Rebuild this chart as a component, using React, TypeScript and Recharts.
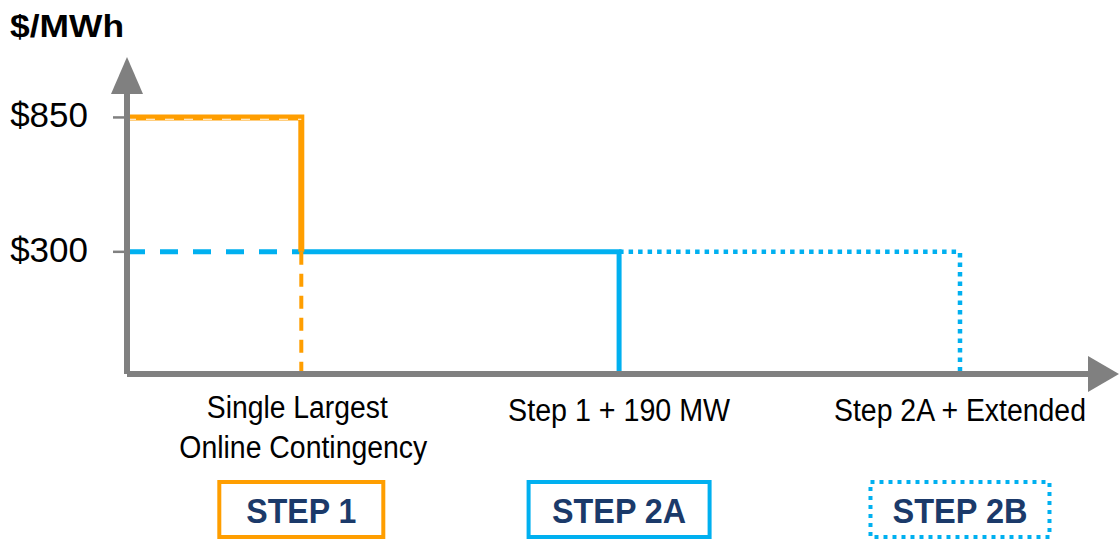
import React from 'react';
import { LineChart, Line, XAxis, YAxis, ReferenceDot } from 'recharts';

const FONT = '"Liberation Sans", Arial, Helvetica, sans-serif';
const ORANGE = '#FF9E00';
const BLUE = '#00B0F0';
const GRAY = '#808080';
const NAVY = '#1B3A6A';

// ---- data ----
const X_MAX = 1000; // capacity axis extent (conceptual units)
const Y_MIN = -200; // price axis floor
const Y_MAX = 950; // price axis top

const priceTicks = [300, 850];
const stepBreaks = [181, 511, 865];
const categoryLabels = [
  ['Single Largest', 'Online Contingency'],
  ['Step 1 + 190 MW'],
  ['Step 2A + Extended'],
];
const stepNames = ['STEP 1', 'STEP 2A', 'STEP 2B'];

const step1Solid = [
  { x: 0, y: 850 },
  { x: 181, y: 850 },
  { x: 181, y: 300 },
];
const step1Dashed = [
  { x: 181, y: 300 },
  { x: 181, y: -200 },
];
const step1CapDashed = [
  { x: 0, y: 850 },
  { x: 181, y: 850 },
];
const step2aDashed = [
  { x: 0, y: 300 },
  { x: 181, y: 300 },
];
const step2aSolid = [
  { x: 181, y: 300 },
  { x: 511, y: 300 },
  { x: 511, y: -200 },
];
const step2bDotted = [
  { x: 511, y: 300 },
  { x: 865, y: 300 },
  { x: 865, y: -200 },
];

// ---- styles ----
const labelWidths = [[181, 248], [222], [252]];
const labelShift = [[-4, 2], [0], [0]];
const boxWidths = [164, 181, 179];
const boxTextWidths = [110, 134, 135];
const boxStrokes = [ORANGE, BLUE, BLUE];
const boxDashes = [undefined, undefined, '4 5'];

const XTick = (props: any) => {
  const { x, y, payload } = props;
  const i = stepBreaks.indexOf(payload.value);
  if (i < 0) return null;
  const lines = categoryLabels[i];
  const two = lines.length > 1;
  const w = boxWidths[i];
  return (
    <g>
      {lines.map((t, k) => (
        <text
          key={k}
          x={x + labelShift[i][k]}
          y={y + (two ? 44 + k * 40 : 47)}
          textAnchor="middle"
          fontFamily={FONT}
          fontSize={31}
          fill="#000"
          textLength={labelWidths[i][k]}
          lengthAdjust="spacingAndGlyphs"
        >
          {t}
        </text>
      ))}
      <rect
        x={x - w / 2}
        y={y + 108}
        width={w}
        height={55}
        fill="#fff"
        stroke={boxStrokes[i]}
        strokeWidth={4}
        strokeDasharray={boxDashes[i]}
      />
      <text
        x={x}
        y={y + 149}
        textAnchor="middle"
        fontFamily={FONT}
        fontWeight="bold"
        fontSize={35}
        fill={NAVY}
        textLength={boxTextWidths[i]}
        lengthAdjust="spacingAndGlyphs"
      >
        {stepNames[i]}
      </text>
    </g>
  );
};

const YTick = (props: any) => {
  const { x, y, payload } = props;
  return (
    <text x={x} y={y} dy={10} textAnchor="end" fontFamily={FONT} fontSize={35} fill="#000">
      {'$' + payload.value}
    </text>
  );
};

const UpArrow = (p: any) => (
  <path d={`M${p.cx - 16},${p.cy + 1} L${p.cx},${p.cy - 36} L${p.cx + 16},${p.cy + 1} Z`} fill={GRAY} />
);
const RightArrow = (p: any) => (
  <path d={`M${p.cx - 2},${p.cy - 18} L${p.cx + 29},${p.cy} L${p.cx - 2},${p.cy + 18} Z`} fill={GRAY} />
);

export default function App() {
  return (
    <div style={{ position: 'absolute', left: 0, top: 0, width: 1119, height: 542, background: '#fff' }}>
      <svg width={1119} height={60} style={{ position: 'absolute', left: 0, top: 0 }}>
        <text
          x={10}
          y={37}
          fontFamily={FONT}
          fontWeight="bold"
          fontSize={32}
          fill="#000"
          textLength={114}
          lengthAdjust="spacingAndGlyphs"
        >
          $/MWh
        </text>
      </svg>
      <LineChart width={1119} height={542} margin={{ top: 93, right: 29, left: 0, bottom: 0 }}>
        <XAxis
          type="number"
          dataKey="x"
          domain={[0, X_MAX]}
          ticks={stepBreaks}
          interval={0}
          tickLine={false}
          tickSize={0}
          tickMargin={0}
          height={168}
          axisLine={{ stroke: GRAY, strokeWidth: 6 }}
          tick={<XTick />}
        />
        <YAxis
          type="number"
          dataKey="y"
          domain={[Y_MIN, Y_MAX]}
          ticks={priceTicks}
          interval={0}
          width={127}
          tickSize={14}
          tickMargin={25}
          axisLine={{ stroke: GRAY, strokeWidth: 6 }}
          tickLine={{ stroke: GRAY, strokeWidth: 2.5 }}
          tick={<YTick />}
        />
        <Line
          data={step2aDashed}
          dataKey="y"
          stroke={BLUE}
          strokeWidth={5}
          strokeDasharray="18 15"
          dot={false}
          isAnimationActive={false}
        />
        <Line
          data={step2bDotted}
          dataKey="y"
          stroke={BLUE}
          strokeWidth={4.5}
          strokeDasharray="4.5 5"
          dot={false}
          isAnimationActive={false}
        />
        <Line
          data={step2aSolid}
          dataKey="y"
          stroke={BLUE}
          strokeWidth={5}
          dot={false}
          isAnimationActive={false}
        />
        <Line
          data={step1Dashed}
          dataKey="y"
          stroke={ORANGE}
          strokeWidth={4}
          strokeDasharray="13 9"
          dot={false}
          isAnimationActive={false}
        />
        <Line
          data={step1Solid}
          dataKey="y"
          stroke={ORANGE}
          strokeWidth={6}
          dot={false}
          isAnimationActive={false}
        />
        <Line
          data={step1CapDashed}
          dataKey="y"
          stroke="#fff"
          strokeWidth={1.2}
          strokeDasharray="9 10"
          dot={false}
          isAnimationActive={false}
          transform="translate(0,1.8)"
        />
        <ReferenceDot x={0} y={Y_MAX} r={0} ifOverflow="visible" shape={UpArrow} />
        <ReferenceDot x={X_MAX} y={Y_MIN} r={0} ifOverflow="visible" shape={RightArrow} />
      </LineChart>
    </div>
  );
}
